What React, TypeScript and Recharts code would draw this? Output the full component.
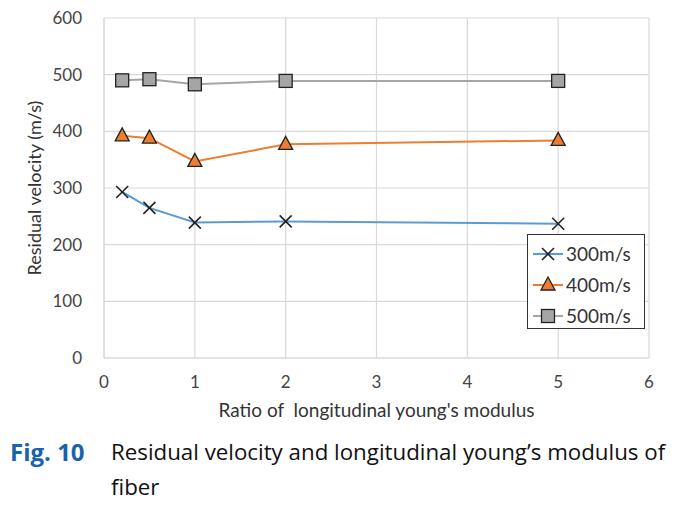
import React from "react";
import {
  LineChart,
  Line,
  XAxis,
  YAxis,
  CartesianGrid,
} from "recharts";

const ratios = [0.2, 0.5, 1, 2, 5];
const v300 = [293, 265, 239, 241, 237];
const v400 = [392, 388, 347, 377, 384];
const v500 = [490, 492, 483, 489, 489];
const xTicks = [0, 1, 2, 3, 4, 5, 6];
const yTicks = [0, 100, 200, 300, 400, 500, 600];

const data = ratios.map((r, i) => ({ r, a: v300[i], b: v400[i], c: v500[i] }));

const FONT = "Lato, 'Open Sans', sans-serif";

const Cross = ({ cx, cy }: any) => (
  <g>
    <line x1={cx - 6} y1={cy - 6} x2={cx + 6} y2={cy + 6} stroke="#222" strokeWidth={1.6} />
    <line x1={cx - 6} y1={cy + 6} x2={cx + 6} y2={cy - 6} stroke="#222" strokeWidth={1.6} />
  </g>
);

const Tri = ({ cx, cy }: any) => (
  <polygon
    points={`${cx},${cy - 8} ${cx - 7},${cy + 5} ${cx + 7},${cy + 5}`}
    fill="#ed7d31"
    stroke="#222"
    strokeWidth={1.3}
  />
);

const Sq = ({ cx, cy }: any) => (
  <rect x={cx - 6.5} y={cy - 6.5} width={13} height={13} fill="#a5a5a5" stroke="#222" strokeWidth={1.3} />
);

const legendItems = [
  { name: "300m/s", color: "#5b9bd5", Mark: Cross },
  { name: "400m/s", color: "#ed7d31", Mark: Tri },
  { name: "500m/s", color: "#a5a5a5", Mark: Sq },
];

function LegendBox() {
  return (
    <div
      style={{
        position: "absolute",
        left: 527,
        top: 234,
        width: 118,
        height: 95,
        boxSizing: "border-box",
        border: "1.5px solid #333",
        background: "#fff",
        padding: "3px 0 0 3px",
        fontFamily: FONT,
        fontSize: 19,
        color: "#333",
      }}
    >
      {legendItems.map((it) => (
        <div key={it.name} style={{ display: "flex", alignItems: "center", height: 31 }}>
          <svg width={34} height={20}>
            <line x1={2} y1={10} x2={32} y2={10} stroke={it.color} strokeWidth={2} />
            <it.Mark cx={17} cy={10} />
          </svg>
          <span style={{ marginLeft: 1 }}>{it.name}</span>
        </div>
      ))}
    </div>
  );
}

export default function App() {
  return (
    <div style={{ position: "fixed", left: 0, top: 0, width: 684, height: 508, background: "#fff" }}>
      <LineChart
        width={684}
        height={425}
        data={data}
        margin={{ top: 18, right: 35, bottom: 0, left: 20 }}
      >
        <CartesianGrid stroke="#d9d9d9" strokeWidth={1.2} />
        <XAxis
          type="number"
          dataKey="r"
          domain={[0, 6]}
          ticks={xTicks}
          stroke="#d9d9d9"
          tickLine={false}
          tick={{ fill: "#444", fontSize: 17, fontFamily: FONT }}
          tickMargin={12}
          height={67}
          label={{
            value: "Ratio of\u00a0\u00a0longitudinal young's modulus",
            position: "insideBottom",
            offset: 8,
            fill: "#333",
            fontSize: 19,
            fontFamily: FONT,
          }}
        />
        <YAxis
          domain={[0, 600]}
          ticks={yTicks}
          stroke="#d9d9d9"
          tickLine={false}
          tick={{ fill: "#444", fontSize: 17, fontFamily: FONT }}
          tickMargin={16}
          width={84}
          label={{
            value: "Residual velocity (m/s)",
            angle: -90,
            position: "insideLeft",
            offset: 15,
            style: { textAnchor: "middle" },
            fill: "#333",
            fontSize: 18,
            fontFamily: FONT,
          }}
        />
        <Line dataKey="a" name="300m/s" stroke="#5b9bd5" strokeWidth={2} dot={<Cross />} isAnimationActive={false} />
        <Line dataKey="b" name="400m/s" stroke="#ed7d31" strokeWidth={2} dot={<Tri />} isAnimationActive={false} />
        <Line dataKey="c" name="500m/s" stroke="#a5a5a5" strokeWidth={2} dot={<Sq />} isAnimationActive={false} />
      </LineChart>
      <LegendBox />
      <div
        style={{
          position: "absolute",
          left: 10,
          top: 434,
          fontFamily: "'Open Sans', sans-serif",
          fontSize: 24,
          lineHeight: "35px",
          color: "#1a62ad",
          fontWeight: 700,
        }}
      >
        Fig. 10
      </div>
      <div
        style={{
          position: "absolute",
          left: 111,
          top: 434,
          width: 570,
          fontFamily: "'Open Sans', sans-serif",
          fontSize: 22.3,
          lineHeight: "35px",
          color: "#111",
        }}
      >
        Residual velocity and longitudinal young’s modulus of
        <br />
        fiber
      </div>
    </div>
  );
}
